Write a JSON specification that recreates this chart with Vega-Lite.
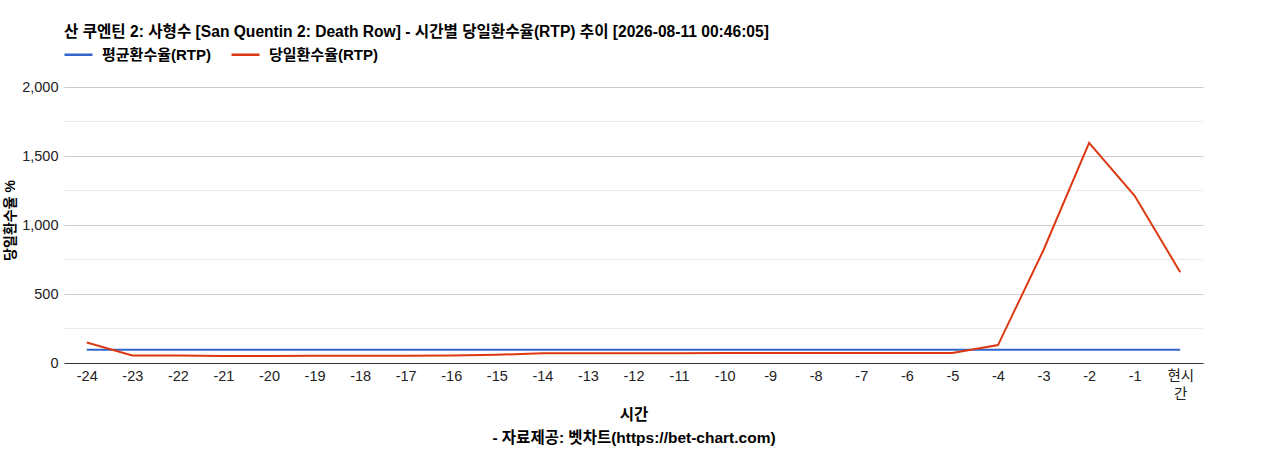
{
  "$schema": "https://vega.github.io/schema/vega-lite/v6.json",
  "autosize": "none",
  "width": 1139,
  "height": 276,
  "padding": {"left": 64, "top": 87, "right": 65, "bottom": 87},
  "background": "white",
  "config": {
    "font": "Liberation Sans, Noto Sans CJK KR",
    "view": {"stroke": null}
  },
  "title": {
    "text": "산 쿠엔틴 2: 사형수 [San Quentin 2: Death Row] - 시간별 당일환수율(RTP) 추이 [2026-08-11 00:46:05]",
    "anchor": "start",
    "frame": "group",
    "orient": "top",
    "fontSize": 15.6,
    "fontWeight": "bold",
    "color": "#000",
    "offset": -2
  },
  "datasets": {
    "minor": [{"v": 250}, {"v": 750}, {"v": 1250}, {"v": 1750}],
    "rtp": [
      {"t": "-24", "s": "평균환수율(RTP)", "v": 96},
      {"t": "-23", "s": "평균환수율(RTP)", "v": 96},
      {"t": "-22", "s": "평균환수율(RTP)", "v": 96},
      {"t": "-21", "s": "평균환수율(RTP)", "v": 96},
      {"t": "-20", "s": "평균환수율(RTP)", "v": 96},
      {"t": "-19", "s": "평균환수율(RTP)", "v": 96},
      {"t": "-18", "s": "평균환수율(RTP)", "v": 96},
      {"t": "-17", "s": "평균환수율(RTP)", "v": 96},
      {"t": "-16", "s": "평균환수율(RTP)", "v": 96},
      {"t": "-15", "s": "평균환수율(RTP)", "v": 96},
      {"t": "-14", "s": "평균환수율(RTP)", "v": 96},
      {"t": "-13", "s": "평균환수율(RTP)", "v": 96},
      {"t": "-12", "s": "평균환수율(RTP)", "v": 96},
      {"t": "-11", "s": "평균환수율(RTP)", "v": 96},
      {"t": "-10", "s": "평균환수율(RTP)", "v": 96},
      {"t": "-9", "s": "평균환수율(RTP)", "v": 96},
      {"t": "-8", "s": "평균환수율(RTP)", "v": 96},
      {"t": "-7", "s": "평균환수율(RTP)", "v": 96},
      {"t": "-6", "s": "평균환수율(RTP)", "v": 96},
      {"t": "-5", "s": "평균환수율(RTP)", "v": 96},
      {"t": "-4", "s": "평균환수율(RTP)", "v": 96},
      {"t": "-3", "s": "평균환수율(RTP)", "v": 96},
      {"t": "-2", "s": "평균환수율(RTP)", "v": 96},
      {"t": "-1", "s": "평균환수율(RTP)", "v": 96},
      {"t": "현시간", "s": "평균환수율(RTP)", "v": 96},
      {"t": "-24", "s": "당일환수율(RTP)", "v": 149},
      {"t": "-23", "s": "당일환수율(RTP)", "v": 55},
      {"t": "-22", "s": "당일환수율(RTP)", "v": 54},
      {"t": "-21", "s": "당일환수율(RTP)", "v": 50},
      {"t": "-20", "s": "당일환수율(RTP)", "v": 50},
      {"t": "-19", "s": "당일환수율(RTP)", "v": 52},
      {"t": "-18", "s": "당일환수율(RTP)", "v": 53},
      {"t": "-17", "s": "당일환수율(RTP)", "v": 53},
      {"t": "-16", "s": "당일환수율(RTP)", "v": 54},
      {"t": "-15", "s": "당일환수율(RTP)", "v": 60},
      {"t": "-14", "s": "당일환수율(RTP)", "v": 70},
      {"t": "-13", "s": "당일환수율(RTP)", "v": 71},
      {"t": "-12", "s": "당일환수율(RTP)", "v": 71},
      {"t": "-11", "s": "당일환수율(RTP)", "v": 71},
      {"t": "-10", "s": "당일환수율(RTP)", "v": 72},
      {"t": "-9", "s": "당일환수율(RTP)", "v": 72},
      {"t": "-8", "s": "당일환수율(RTP)", "v": 72},
      {"t": "-7", "s": "당일환수율(RTP)", "v": 72},
      {"t": "-6", "s": "당일환수율(RTP)", "v": 72},
      {"t": "-5", "s": "당일환수율(RTP)", "v": 72},
      {"t": "-4", "s": "당일환수율(RTP)", "v": 130},
      {"t": "-3", "s": "당일환수율(RTP)", "v": 819},
      {"t": "-2", "s": "당일환수율(RTP)", "v": 1595},
      {"t": "-1", "s": "당일환수율(RTP)", "v": 1212},
      {"t": "현시간", "s": "당일환수율(RTP)", "v": 658}
    ]
  },
  "layer": [
    {
      "data": {"name": "minor"},
      "mark": {"type": "rule", "color": "#ebebeb", "strokeWidth": 1},
      "encoding": {
        "y": {"field": "v", "type": "quantitative", "scale": {"domain": [0, 2000]}}
      }
    },
    {
      "data": {"name": "rtp"},
      "mark": {"type": "line", "strokeWidth": 2, "interpolate": "linear"},
      "encoding": {
        "x": {
          "field": "t",
          "type": "ordinal",
          "sort": null,
          "scale": {"type": "point", "padding": 0.5},
          "axis": {
            "title": ["시간", "- 자료제공: 벳차트(https://bet-chart.com)"],
            "titleFontSize": 15.5,
            "titleFontWeight": "bold",
            "titleColor": "#000",
            "titleLineHeight": 23,
            "titleBaseline": "middle",
            "titleY": 51,
            "labelAngle": 0,
            "labelFontSize": 14.5,
            "labelColor": "#222",
            "labelPadding": 6,
            "labelLineHeight": 18,
            "labelExpr": "datum.label == '현시간' ? ['현시', '간'] : datum.label",
            "ticks": false,
            "domainColor": "#333",
            "domainWidth": 1,
            "grid": false
          }
        },
        "y": {
          "field": "v",
          "type": "quantitative",
          "scale": {"domain": [0, 2000]},
          "axis": {
            "title": "당일환수율 %",
            "titleFontSize": 14,
            "titleFontWeight": "bold",
            "titleColor": "#000",
            "titleBaseline": "middle",
            "titleX": -54,
            "titleY": 133,
            "values": [0, 500, 1000, 1500, 2000],
            "format": ",d",
            "labelFontSize": 14.5,
            "labelColor": "#222",
            "labelPadding": 6,
            "ticks": false,
            "domain": false,
            "grid": true,
            "gridColor": "#cccccc"
          }
        },
        "color": {
          "field": "s",
          "type": "nominal",
          "scale": {
            "domain": ["평균환수율(RTP)", "당일환수율(RTP)"],
            "range": ["#3366cc", "#dc3912"]
          },
          "legend": {
            "title": null,
            "orient": "none",
            "direction": "horizontal",
            "legendX": -1,
            "legendY": -48,
            "symbolType": "stroke",
            "symbolSize": 784,
            "symbolStrokeWidth": 2.5,
            "labelFontSize": 15,
            "labelFontWeight": "bold",
            "labelColor": "#000",
            "labelOffset": 8,
            "columnPadding": 15
          }
        }
      }
    }
  ]
}
